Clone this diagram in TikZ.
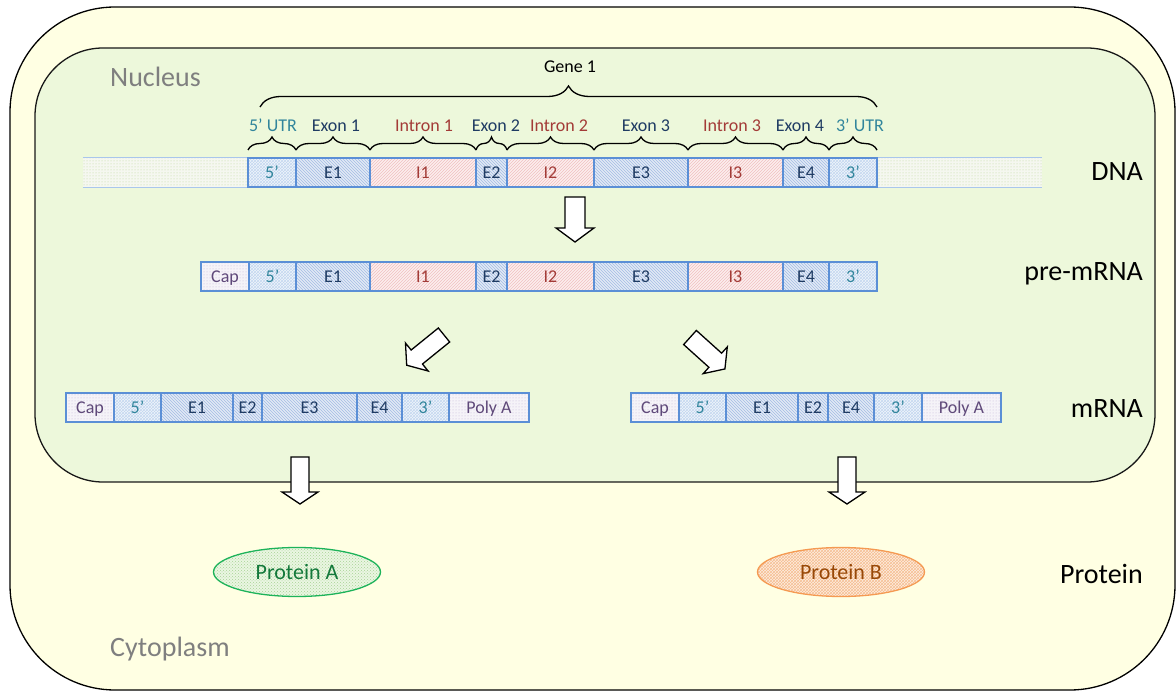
\documentclass[tikz,border=0pt]{standalone}
\usepackage{fontspec}
\setmainfont{Carlito}
\usetikzlibrary{patterns,decorations.pathreplacing,shapes.geometric}

\definecolor{cellfill}{HTML}{FFFFE3}
\definecolor{nucfill}{HTML}{EDF8DB}
\definecolor{segline}{HTML}{5B8FD6}
\definecolor{utrbase}{HTML}{F0F5FB}
\definecolor{utrdot}{HTML}{C3D7F0}
\definecolor{utrtext}{HTML}{31859C}
\definecolor{exonbase}{HTML}{E2E9F5}
\definecolor{exonline}{HTML}{A3BCE4}
\definecolor{exontext}{HTML}{1F3B63}
\definecolor{intbase}{HTML}{FCEEEE}
\definecolor{intline}{HTML}{F0C0C0}
\definecolor{inttext}{HTML}{A33B37}
\definecolor{capbase}{HTML}{F5F3F8}
\definecolor{capdot}{HTML}{C2B5D6}
\definecolor{captext}{HTML}{5F497A}
\definecolor{extbase}{HTML}{F5F7F0}
\definecolor{extdot}{HTML}{BCD696}
\definecolor{extline}{HTML}{A9C6EC}
\definecolor{greytext}{HTML}{7F7F7F}
\definecolor{protAline}{HTML}{1DB35A}
\definecolor{protAbase}{HTML}{EAF6E2}
\definecolor{protAdot}{HTML}{A8D394}
\definecolor{protAtext}{HTML}{13793A}
\definecolor{protBline}{HTML}{F59A52}
\definecolor{protBbase}{HTML}{FDEDE0}
\definecolor{protBdot}{HTML}{F6BE92}
\definecolor{protBtext}{HTML}{984807}

\tikzset{
  fs/.style={font=\fontsize{#1}{#1}\selectfont},
  seg/.style={draw=segline, line width=1.4pt, inner sep=0pt, minimum height=29pt,
              text height=12pt, text depth=0pt, fs=18},
  utr/.style={seg, preaction={fill=utrbase}, pattern=crosshatch, pattern color=utrdot, text=utrtext},
  exon/.style={seg, preaction={fill=exonbase}, pattern=north west lines, pattern color=exonline, text=exontext},
  intron/.style={seg, preaction={fill=intbase}, pattern=north east lines, pattern color=intline, text=inttext},
  capseg/.style={seg, preaction={fill=capbase}, pattern=dots, pattern color=capdot, text=captext},
  ext/.style={inner sep=0pt, minimum height=29pt, fill=extbase, postaction={pattern=dots, pattern color=extdot}},
  extedge/.style={draw=extline, line width=1pt},
  lab/.style={fs=18, inner sep=0pt, anchor=base},
  rowlab/.style={fs=28, inner sep=0pt, anchor=base east},
  cmplab/.style={fs=28, inner sep=0pt, anchor=base west, text=greytext},
  bracestyle/.style={draw=black, line width=1.3pt, decorate, decoration={brace, amplitude=#1}},
  protein/.style={ellipse, line width=1.3pt, minimum width=167pt, minimum height=49pt,
                  inner sep=0pt, fs=22, text height=14pt, text depth=0pt},
  arrowbody/.style={draw=black, fill=white, line width=1.3pt, line join=miter},
  pics/blockarrow/.style args={#1/#2/#3/#4}{code={
    \draw[arrowbody] (0,-#2) -- (#1-#4,-#2) -- (#1-#4,-#3) -- (#1,0)
                     -- (#1-#4,#3) -- (#1-#4,#2) -- (0,#2) -- cycle;}}
}

\begin{document}
\begin{tikzpicture}[x=1pt,y=-1pt]
\useasboundingbox (0,0) rectangle (1176,692);
\fill[white] (0,0) rectangle (1176,692);

% cell and nucleus
\draw[line width=1.3pt, fill=cellfill, rounded corners=105pt] (10,7) rectangle (1175,690);
\draw[line width=1.3pt, draw=black!90, fill=nucfill, rounded corners=68pt] (35,48) rectangle (1155,482);

\node[cmplab] (nuc) at (110,87) {Nucleus};
\node[cmplab] (cyto) at (110,656) {Cytoplasm};

% DNA: flanking sequence on both sides of the gene
\node[ext, minimum width=165pt] (dl) at (165.5,172.5) {};
\node[ext, minimum width=165pt] (dr) at (959.5,172.5) {};
\foreach \e in {dl,dr}{
  \draw[extedge] (\e.north west) -- (\e.north east);
  \draw[extedge] (\e.south west) -- (\e.south east);
}

% DNA segments
\foreach \n/\a/\b/\s/\t in {d5/248/296/utr/5’, dE1/296/370/exon/E1, dI1/370/476/intron/I1,
    dE2/476/507/exon/E2, dI2/507/594/intron/I2, dE3/594/688/exon/E3,
    dI3/688/783/intron/I3, dE4/783/829/exon/E4, d3/829/877/utr/3’}
  \node[\s, minimum width={(\b-\a)*1pt}] (\n) at ({(\a+\b)/2},172.5) {\t};

% pre-mRNA segments
\foreach \n/\a/\b/\s/\t in {pCap/201/249/capseg/Cap, p5/249/296/utr/5’, pE1/296/370/exon/E1,
    pI1/370/476/intron/I1, pE2/476/507/exon/E2, pI2/507/594/intron/I2,
    pE3/594/688/exon/E3, pI3/688/783/intron/I3, pE4/783/829/exon/E4, p3/829/877/utr/3’}
  \node[\s, minimum width={(\b-\a)*1pt}] (\n) at ({(\a+\b)/2},276.5) {\t};

% mRNA, isoform A
\foreach \n/\a/\b/\s/\t in {aCap/66/114/capseg/Cap, a5/114/161/utr/5’, aE1/161/233/exon/E1,
    aE2/233/262/exon/E2, aE3/262/357/exon/E3, aE4/357/402/exon/E4,
    a3/402/449/utr/3’, aPA/449/529/capseg/Poly A}
  \node[\s, minimum width={(\b-\a)*1pt}] (\n) at ({(\a+\b)/2},407.5) {\t};

% mRNA, isoform B
\foreach \n/\a/\b/\s/\t in {bCap/631/679/capseg/Cap, b5/679/726/utr/5’, bE1/726/798/exon/E1,
    bE2/798/828/exon/E2, bE4/828/874/exon/E4, b3/874/922/utr/3’, bPA/922/1001/capseg/Poly A}
  \node[\s, minimum width={(\b-\a)*1pt}] (\n) at ({(\a+\b)/2},407.5) {\t};

% braces over the gene regions
\foreach \a/\b in {248/296, 296/370, 370/476, 476/507, 507/594, 594/688, 688/783, 783/829, 829/877}
  \draw[bracestyle=13pt] (\a,150) -- (\b,150);
\draw[bracestyle=21pt] (260,107) -- (877,107);

\node[lab] (gene) at (570,73) {Gene 1};
\node[lab, text=utrtext] (l5) at (273,132) {5’ UTR};
\node[lab, text=exontext] (lE1) at (336,132) {Exon 1};
\node[lab, text=inttext] (lI1) at (424,132) {Intron 1};
\node[lab, text=exontext] (lE2) at (496,132) {Exon 2};
\node[lab, text=inttext] (lI2) at (559,132) {Intron 2};
\node[lab, text=exontext] (lE3) at (646,132) {Exon 3};
\node[lab, text=inttext] (lI3) at (732,132) {Intron 3};
\node[lab, text=exontext] (lE4) at (800,132) {Exon 4};
\node[lab, text=utrtext] (l3) at (860,132) {3’ UTR};

% row labels
\node[rowlab] (tDNA) at (1143,181) {DNA};
\node[rowlab] (tpre) at (1143,281) {pre-mRNA};
\node[rowlab] (tm) at (1143,418) {mRNA};
\node[rowlab] (tprot) at (1143,583) {Protein};

% proteins
\node[protein, draw=protAline, preaction={fill=protAbase}, pattern=crosshatch dots,
      pattern color=protAdot, text=protAtext] (protA) at (297,572) {Protein A};
\node[protein, draw=protBline, preaction={fill=protBbase}, pattern=crosshatch,
      pattern color=protBdot, text=protBtext] (protB) at (841,572) {Protein B};

% processing steps
\pic[rotate=-90] at (575,197) {blockarrow={45/10/19/14}};
\pic[rotate=219] at (444,335) {blockarrow={48/9/18/13}};
\pic[rotate=-42] at (690,337.5) {blockarrow={47/9.5/18/13}};
\pic[rotate=-90] at (300,457) {blockarrow={47/9/18/12}};
\pic[rotate=-90] at (847,457) {blockarrow={47/9/18/12}};
\end{tikzpicture}
\end{document}
